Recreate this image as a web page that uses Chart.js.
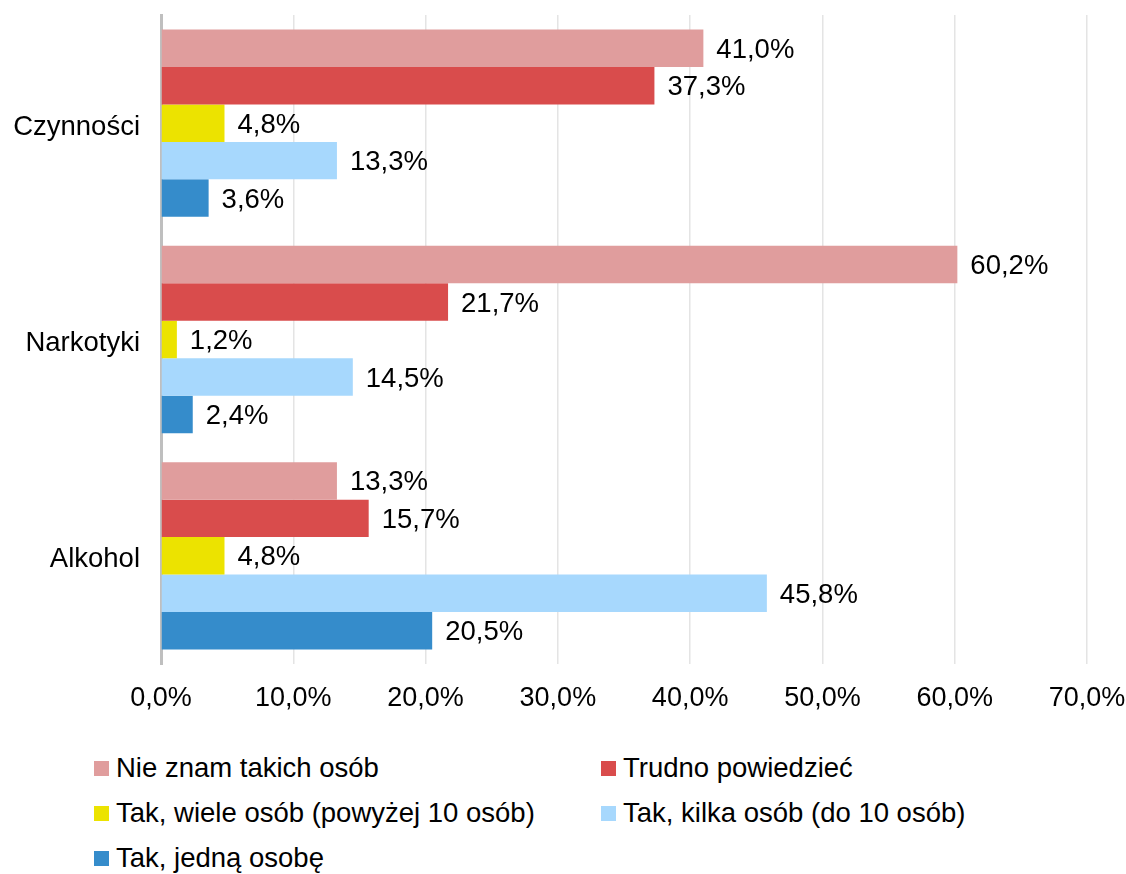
<!DOCTYPE html>
<html>
<head>
<meta charset="utf-8">
<script src="https://cdn.jsdelivr.net/npm/chart.js@4"></script>
<style>
  body { margin: 0; background: #fff; font-family: "Liberation Sans", Arial, sans-serif; }
  #wrap { position: relative; width: 1126px; height: 874px; }
  #box { position: absolute; left: 0; top: 0; width: 1126px; height: 730px; }
  .leg { position: absolute; font-size: 27.5px; color: #000; line-height: 30px; white-space: nowrap; }
  .leg span { display: inline-block; width: 15px; height: 15px; margin-right: 7px; vertical-align: 1px; }
</style>
</head>
<body>
<div id="wrap">
  <div id="box"><canvas id="chart"></canvas></div>
  <div id="legend"></div>
</div>
<script>
  // data
  const categories = ["Czynności", "Narkotyki", "Alkohol"];
  const seriesNames = [
    "Nie znam takich osób",
    "Trudno powiedzieć",
    "Tak, wiele osób (powyżej 10 osób)",
    "Tak, kilka osób (do 10 osób)",
    "Tak, jedną osobę"
  ];
  const nieZnam = [41.0, 60.2, 13.3];
  const trudno = [37.3, 21.7, 15.7];
  const wiele = [4.8, 1.2, 4.8];
  const kilka = [13.3, 14.5, 45.8];
  const jedna = [3.6, 2.4, 20.5];
  const xTicks = [0, 10, 20, 30, 40, 50, 60, 70];

  const colors = ["#e09d9d", "#d94c4c", "#ece300", "#a7d8fd", "#358ccb"];
  const values = [nieZnam, trudno, wiele, kilka, jedna];

  const fmt = v => v.toFixed(1).replace('.', ',') + '%';
  const FONT = '"Liberation Sans", Arial, sans-serif';

  // value labels at the end of each bar
  const barLabels = {
    id: 'barLabels',
    afterDatasetsDraw(chart) {
      const ctx = chart.ctx;
      ctx.save();
      ctx.font = '27.5px ' + FONT;
      ctx.fillStyle = '#000';
      ctx.textAlign = 'left';
      ctx.textBaseline = 'middle';
      chart.data.datasets.forEach((ds, i) => {
        chart.getDatasetMeta(i).data.forEach((bar, j) => {
          ctx.fillText(fmt(ds.data[j]), bar.x + 13, bar.y + 2);
        });
      });
      ctx.restore();
    }
  };

  // keep the tick label overflow from pushing the plot area around
  const noPad = axis => {
    axis.paddingTop = 0; axis.paddingBottom = 0;
    axis.paddingLeft = 0; axis.paddingRight = 0;
  };

  const chart = new Chart(document.getElementById('chart'), {
    type: 'bar',
    data: {
      labels: categories,
      datasets: seriesNames.map((name, i) => ({
        label: name,
        data: values[i],
        backgroundColor: colors[i],
        borderWidth: 0,
        categoryPercentage: 0.866,
        barPercentage: 1.0
      }))
    },
    options: {
      indexAxis: 'y',
      responsive: true,
      maintainAspectRatio: false,
      animation: false,
      layout: { padding: { top: 15, right: 39, left: 0, bottom: 0 } },
      plugins: {
        legend: { display: false },
        tooltip: { enabled: false }
      },
      scales: {
        x: {
          min: 0,
          max: 70,
          afterBuildTicks: axis => { axis.ticks = xTicks.map(v => ({ value: v })); },
          afterFit: axis => { axis.height = 66; noPad(axis); },
          grid: { color: '#e4e4e4', lineWidth: 1.5, drawTicks: false },
          border: { display: false },
          ticks: {
            padding: 18,
            color: '#000',
            font: { family: FONT, size: 27 },
            callback: v => fmt(v)
          }
        },
        y: {
          afterFit: axis => { axis.width = 161; noPad(axis); },
          grid: { display: false, drawTicks: false },
          border: { color: '#bfbfbf', width: 3 },
          ticks: {
            padding: 21,
            labelOffset: 4,
            color: '#000',
            font: { family: FONT, size: 27.5 }
          }
        }
      }
    },
    plugins: [barLabels]
  });

  // legend in two columns
  const legend = document.getElementById('legend');
  const legPos = [[94, 753], [601, 753], [94, 798], [601, 798], [94, 843]];
  chart.data.datasets.forEach((ds, i) => {
    const d = document.createElement('div');
    d.className = 'leg';
    d.style.left = legPos[i][0] + 'px';
    d.style.top = legPos[i][1] + 'px';
    d.innerHTML = '<span style="background:' + ds.backgroundColor + '"></span>' + ds.label;
    legend.appendChild(d);
  });
</script>
</body>
</html>
